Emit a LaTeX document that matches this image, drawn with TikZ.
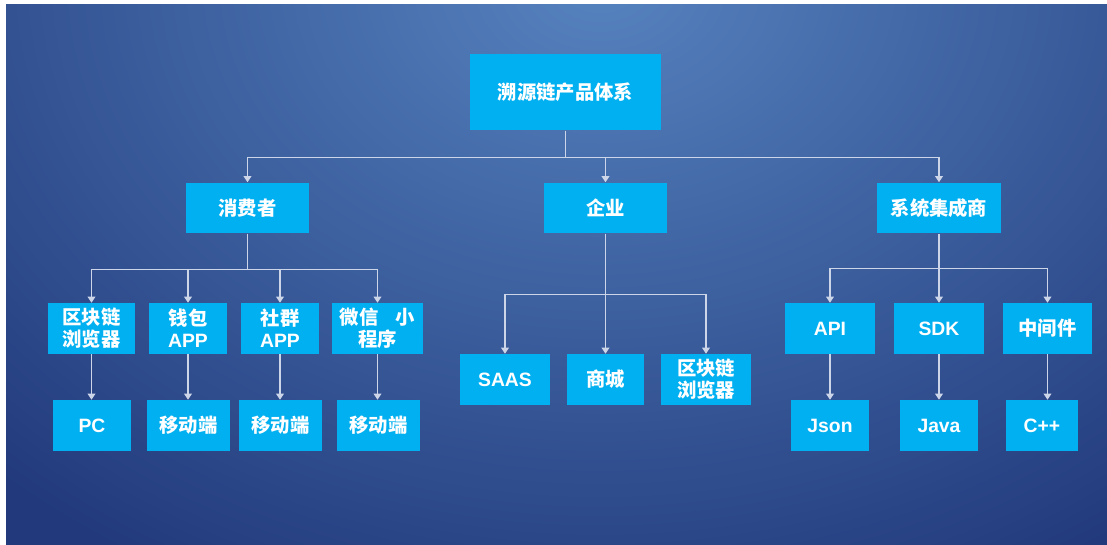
\documentclass[tikz,border=0pt]{standalone}
\usepackage{fontspec}
\setmainfont{Liberation Sans}
\newfontfamily\cjk{Noto Sans CJK SC}
\newcommand{\zh}[1]{{\cjk #1}}
\usepackage{tikz}
\usetikzlibrary{arrows.meta,calc}
\definecolor{azulCaja}{RGB}{0,176,240}
\definecolor{azulClaro}{RGB}{86,131,191}
\definecolor{azulOscuro}{RGB}{34,58,124}
\definecolor{grisLinea}{RGB}{205,214,232}
\pgfdeclareradialshading{fondo}{\pgfpoint{0bp}{0bp}}{color(0bp)=(azulClaro); color(25bp)=(azulOscuro); color(50bp)=(azulOscuro)}
\tikzstyle{edge}  =[draw=grisLinea, line width=0.6pt,
                    -{Triangle[width=4.5pt,length=3.5pt]}]
\tikzstyle{caja}  =[rectangle, fill=azulCaja, text=white,
                    minimum width=2.46cm, minimum height=1.02cm,
                    inner sep=0pt, align=center,
                    font=\fontsize{11}{12.5}\selectfont\bfseries]

\begin{document}
\begin{tikzpicture}[x=0.02cm,y=-0.02cm]

    \useasboundingbox (0,0) rectangle (1107,545);
    \fill[white] (0,0) rectangle (1107,545);
    \begin{scope}
        \clip (6,4) rectangle (1107,545);
        \fill[azulOscuro] (6,4) rectangle (1107,545);
        \shade[shading=fondo] (600,-20) ellipse (880 and 680);
    \end{scope}

    % nivel 1 y 2
    \draw (565.5,92) node(raiz)[caja,minimum width=3.82cm,minimum height=1.54cm]{\zh{溯源链产品体系}};
    \draw (247.5,208) node(cons)[caja]{\zh{消费者}};
    \draw (605.5,208) node(empr)[caja]{\zh{企业}};
    \draw (939,208) node(sist)[caja,minimum width=2.48cm]{\zh{系统集成商}};

    % consumidor
    \draw (91.5,328.5) node(c1)[caja,minimum width=1.74cm]{\zh{区块链}\\\zh{浏览器}};
    \draw (188,328.5) node(c2)[caja,minimum width=1.56cm]{\zh{钱包}\\APP};
    \draw (280,328.5) node(c3)[caja,minimum width=1.56cm]{\zh{社群}\\APP};
    \draw (377.5,328.5) node(c4)[caja,minimum width=1.82cm]{\zh{微信\hspace{0.9em}小}\\\zh{程序}};
    \draw (92,425.5) node(d1)[caja,minimum width=1.56cm]{PC};
    \draw (188.5,425.5) node(d2)[caja,minimum width=1.66cm]{\zh{移动端}};
    \draw (280.5,425.5) node(d3)[caja,minimum width=1.66cm]{\zh{移动端}};
    \draw (378.5,425.5) node(d4)[caja,minimum width=1.66cm]{\zh{移动端}};

    % empresa
    \draw (505,379.5) node(e1)[caja,minimum width=1.8cm]{SAAS};
    \draw (605.5,379.5) node(e2)[caja,minimum width=1.54cm]{\zh{商城}};
    \draw (706,379.5) node(e3)[caja,minimum width=1.8cm]{\zh{区块链}\\\zh{浏览器}};

    % integrador
    \draw (830,328.5) node(s1)[caja,minimum width=1.8cm]{API};
    \draw (939,328.5) node(s2)[caja,minimum width=1.8cm]{SDK};
    \draw (1047.5,328.5) node(s3)[caja,minimum width=1.78cm]{\zh{中间件}};
    \draw (830,425.5) node(t1)[caja,minimum width=1.56cm]{Json};
    \draw (939,425.5) node(t2)[caja,minimum width=1.56cm]{Java};
    \draw (1042,425.5) node(t3)[caja,minimum width=1.44cm]{C++};

    \foreach \i/\j/\d in {raiz/cons/27,raiz/empr/27,raiz/sist/27,
        cons/c1/36,cons/c2/36,cons/c3/36,cons/c4/36,
        empr/e1/61,empr/e2/61,empr/e3/61,
        sist/s1/35,sist/s2/35,sist/s3/35}
        \draw [edge] (\i.south) -- ++(0,\d) -| (\j.north);

    \foreach \i/\j in {c1/d1,c2/d2,c3/d3,c4/d4,s1/t1,s2/t2,s3/t3}
        \draw [edge] (\i.south) -- (\i.south |- \j.north);

\end{tikzpicture}
\end{document}
